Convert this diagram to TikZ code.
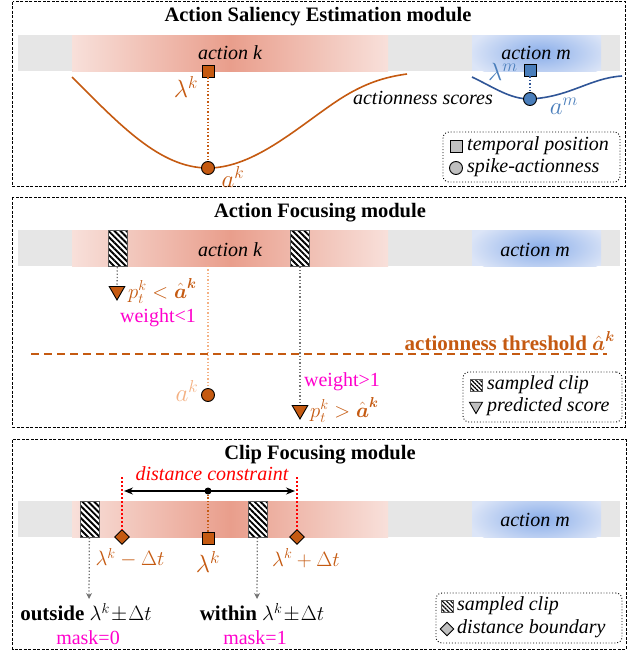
\documentclass[tikz,border=0pt]{standalone}
\usepackage{amsmath}
\usepackage{fontspec}
\setmainfont{Liberation Serif}
\usetikzlibrary{shapes.geometric,patterns.meta,arrows.meta}
\definecolor{ora}{HTML}{C55A11}
\definecolor{oral}{HTML}{F4B183}
\definecolor{blu}{HTML}{2F5597}
\definecolor{blul}{HTML}{4A7EBB}
\definecolor{mag}{HTML}{FF00CC}
\definecolor{barg}{HTML}{E6E6E6}
\definecolor{redl}{HTML}{F8E0DA}
\definecolor{redc}{HTML}{E99E8C}
\definecolor{bluel}{HTML}{DCE5F7}
\definecolor{bluec}{HTML}{8AAEEA}
\definecolor{legg}{HTML}{BFBFBF}
\newcommand{\mytimeline}[2]{%
  \fill[barg] (18,#1) rectangle (620,#2);
  \shade[left color=redl, right color=redl, middle color=redc] (72,#1) rectangle (388,#2);
  \begin{scope}
    \clip (472,#1) rectangle (601,#2);
    \fill[bluel] (472,#1) rectangle (601,#2);
    \shade[inner color=bluec, outer color=bluel] (540,{(#1+#2)/2}) ellipse [x radius=72, y radius=30];
  \end{scope}
}
\newcommand{\bah}{\hat{\boldsymbol a}^{\boldsymbol k}}
\tikzset{
  txt/.style={font=\fontsize{20}{24}\selectfont, inner sep=0pt},
  mth/.style={font=\fontsize{21}{24}\selectfont, inner sep=0pt},
  mbig/.style={font=\fontsize{24}{28}\selectfont, inner sep=0pt},
  itx/.style={font=\fontsize{20}{24}\selectfont\itshape, inner sep=0pt},
  ttl/.style={font=\fontsize{20.5}{24}\selectfont\bfseries, inner sep=0pt},
  panel/.style={draw, dash pattern=on 3pt off 1.5pt, line width=0.9pt},
  legbox/.style={draw, dotted, rounded corners=6pt, line width=0.9pt},
  sqmark/.style={draw=black, rectangle, minimum size=12pt, inner sep=0pt, line width=0.9pt},
  cmark/.style={draw=black, circle, minimum size=13pt, inner sep=0pt, line width=0.9pt},
  dmark/.style={draw=black, diamond, minimum size=15pt, inner sep=0pt, line width=0.9pt},
  tmark/.style={draw=black, regular polygon, regular polygon sides=3, shape border rotate=180, minimum size=18pt, inner sep=0pt, line width=0.9pt},
  hatchbox/.style={draw=black!65, line width=1pt, preaction={fill=white}, pattern={Lines[angle=-45,distance=4.2pt,line width=1.9pt]}, pattern color=black, inner sep=0pt},
  gdot/.style={draw=black!55, dotted, line width=1.3pt},
  garrow/.style={gdot, -{Stealth[length=6pt,width=6pt]}},
}
\begin{document}
\begin{tikzpicture}[x=1pt,y=-1pt]
\useasboundingbox (0,0) rectangle (631,651);
% ---------------- panel 1
\draw[panel] (12.5,1.5) rectangle (625,186.5);
\node[ttl] (t1) at (318,17) {Action Saliency Estimation module};
\mytimeline{35}{71}
\node[itx] (ak1) at (230,53) {action k};
\node[itx] (am1) at (536,53) {action m};
\draw[ora, line width=1.6pt] (72,77) .. controls (120,125) and (160,168) .. (208,168)
  .. controls (255,168) and (300,125) .. (340,99) .. controls (365,83) and (385,77) .. (407,74);
\draw[blu, line width=1.6pt] (472,77) .. controls (495,88) and (510,99) .. (530,99)
  .. controls (570,97) and (590,78) .. (622,76);
\node[sqmark, fill=ora] (sq1) at (208,71) {};
\node[cmark, fill=ora] (c1) at (208,168) {};
\draw[ora, dotted, line width=1.4pt] (sq1) -- (c1);
\node[mbig, text=ora] (lk1) at (186,87) {$\lambda^k$};
\node[mbig, text=ora] (ak1l) at (233,177) {$a^k$};
\node[sqmark, fill=blul] (sqm) at (530,70) {};
\node[cmark, fill=blul] (cm) at (530,99) {};
\draw[blu, dotted, line width=1.4pt] (sqm) -- (cm);
\node[mbig, text=blul] (lm) at (503,72) {$\lambda^m$};
\node[mbig, text=blul] (amx) at (564,106) {$a^m$};
\node[itx] (as) at (423,98) {actionness scores};
\node[legbox, minimum width=177pt, minimum height=50pt] (lg1) at (531.5,157) {};
\node[sqmark, fill=legg] (lgs) at (456,146) {};
\node[cmark, fill=legg] (lgc) at (456,168) {};
\node[itx, anchor=west] (lgt1) at (467,146) {temporal position};
\node[itx, anchor=west] (lgt2) at (467,168) {spike-actionness};
% ---------------- panel 2
\draw[panel] (12.5,197) rectangle (625,427);
\node[ttl] (t2) at (320,213) {Action Focusing module};
\mytimeline{230}{266}
\node[itx] (ak2) at (230,250) {action k};
\node[itx] (am2) at (535,250) {action m};
\node[hatchbox, minimum width=19pt, minimum height=36pt] (h1) at (117.5,248) {};
\node[hatchbox, minimum width=19pt, minimum height=36pt] (h2) at (300,248) {};
\node[tmark, fill=ora] (tr1) at (117,291) {};
\node[tmark, fill=ora] (tr2) at (300,410) {};
\draw[gdot] (h1) -- (tr1);
\draw[gdot] (h2) -- (tr2);
\node[mth, text=ora, anchor=west] (p1) at (128,291) {$p_t^k < \bah$};
\node[txt, text=mag] (w1) at (158,318) {weight<1};
\coordinate (ak2top) at (208,266);
\node[cmark, fill=ora] (c2) at (208,395) {};
\draw[oral, dotted, line width=1.3pt] (ak2top) -- (c2);
\node[mbig, text=oral] (ak2l) at (187,391) {$a^k$};
\coordinate (th1) at (31,354);
\coordinate (th2) at (607,354);
\draw[ora, dash pattern=on 8pt off 5pt, line width=1.6pt] (th1) -- (th2);
\node[txt, text=ora, anchor=east, font=\fontsize{21}{24}\selectfont\bfseries] (thl) at (615,341) {actionness threshold $\bah$};
\node[txt, text=mag] (w2) at (342,382) {weight>1};
\node[mth, text=ora, anchor=west] (p2) at (310,410) {$p_t^k > \bah$};
\node[legbox, minimum width=159pt, minimum height=50pt] (lg2) at (542.5,397) {};
\node[hatchbox, minimum size=12pt, pattern={Lines[angle=-45,distance=3pt,line width=1.2pt]}] (lgh2) at (476,385) {};
\node[tmark, fill=legg, minimum size=15pt] (lgtr) at (476,406) {};
\node[itx, anchor=west] (lgt3) at (487,385) {sampled clip};
\node[itx, anchor=west] (lgt4) at (487,407) {predicted score};
% ---------------- panel 3
\draw[panel] (12.5,439.5) rectangle (626,649);
\node[ttl] (t3) at (320,455) {Clip Focusing module};
\mytimeline{501}{537}
\node[itx] (am3) at (535,520) {action m};
\node[hatchbox, minimum width=19pt, minimum height=36pt] (h3) at (89.5,519) {};
\node[hatchbox, minimum width=19pt, minimum height=36pt] (h4) at (257.5,519) {};
\coordinate (r1) at (122,477);
\coordinate (r2) at (297,477);
\node[dmark, fill=ora] (d1) at (122,537) {};
\node[dmark, fill=ora] (d2) at (297,537) {};
\draw[red, dotted, line width=2pt] (r1) -- (d1);
\draw[red, dotted, line width=2pt] (r2) -- (d2);
\node[sqmark, fill=ora] (s3) at (208,538) {};
\node[circle, fill=black, minimum size=7pt, inner sep=0pt] (dot3) at (208,491) {};
\draw[ora, dotted, line width=1.3pt] (s3) -- (dot3);
\coordinate (da1) at (124,491);
\coordinate (da2) at (295,491);
\draw[black, line width=1.3pt, {Stealth[length=9pt,width=7pt]}-{Stealth[length=9pt,width=7pt]}] (da1) -- (da2);
\node[itx, text=red] (dc) at (212,474) {distance constraint};
\node[mth, text=ora] (lm1) at (130,558) {$\lambda^k - \Delta t$};
\node[mbig, text=ora] (lk3) at (208,562) {$\lambda^k$};
\node[mth, text=ora] (lp1) at (306,558) {$\lambda^k + \Delta t$};
\coordinate (ar1) at (89,599);
\coordinate (ar2) at (257,599);
\draw[garrow] (h3) -- (ar1);
\draw[garrow] (h4) -- (ar2);
\node[txt, font=\fontsize{21}{24}\selectfont] (out) at (86,613) {\textbf{outside} $\lambda^k\!\pm\!\Delta t$};
\node[txt, text=mag] (m0) at (88,638) {mask=0};
\node[txt, font=\fontsize{21}{24}\selectfont] (win) at (262,613) {\textbf{within} $\lambda^k\!\pm\!\Delta t$};
\node[txt, text=mag] (m1) at (255,638) {mask=1};
\node[legbox, minimum width=186pt, minimum height=50pt] (lg3) at (529,618) {};
\node[hatchbox, minimum size=12pt, pattern={Lines[angle=-45,distance=3pt,line width=1.2pt]}] (lgh3) at (447,606) {};
\node[dmark, fill=legg, minimum size=14pt] (lgd) at (447,629) {};
\node[itx, anchor=west] (lgt5) at (457,606) {sampled clip};
\node[itx, anchor=west] (lgt6) at (457,629) {distance boundary};
\end{tikzpicture}
\end{document}
